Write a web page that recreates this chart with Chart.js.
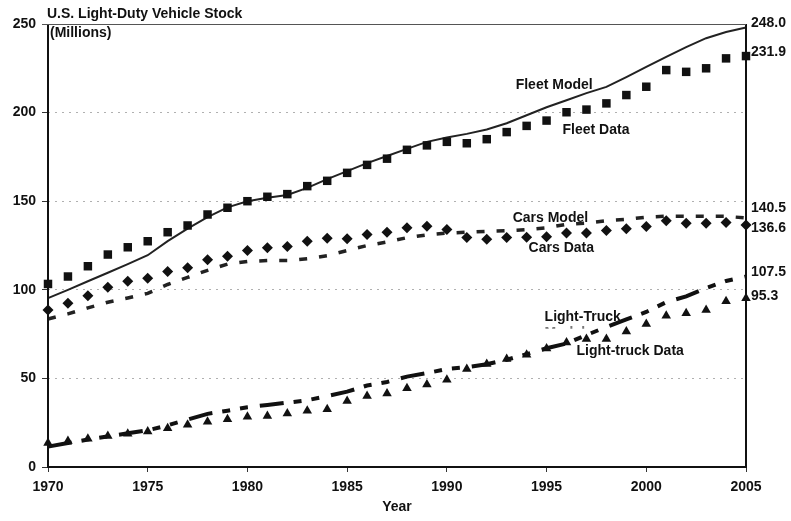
<!DOCTYPE html>
<html><head><meta charset="utf-8">
<script src="https://cdn.jsdelivr.net/npm/chart.js@4.4.1/dist/chart.umd.min.js"></script>
<style>html,body{margin:0;padding:0;background:#fff;}#wrap{width:791px;height:521px;}</style>
</head><body><div id="wrap"><canvas id="c" width="791" height="521"></canvas></div>
<script>
const years = [1970,1971,1972,1973,1974,1975,1976,1977,1978,1979,1980,1981,1982,1983,1984,1985,1986,1987,1988,1989,1990,1991,1992,1993,1994,1995,1996,1997,1998,1999,2000,2001,2002,2003,2004,2005];
const fleetModel = [95.3,100,104.8,109.6,114.5,119.5,127.5,134.5,141,146.5,150,152,153.5,157.5,162.5,167,171.5,175.5,179.5,183.5,186,188,190.5,194,198.5,203,207,211,214.5,220,225.8,231.5,237,242,245.5,248.0];
const fleetData = [103.3,107.5,113.3,119.9,124,127.4,132.5,136.3,142.5,146.3,150,152.5,154,158.5,161.5,166,170.5,174,179,181.5,183.5,182.7,185,189,192.5,195.5,200.2,201.7,205.2,209.9,214.6,224,223,225,230.6,231.9];
const carsModel = [83.5,86.4,89.8,93,95.4,98,103,107,111,114.5,116,116.5,116.5,117.5,119.3,122.2,125,127,129.4,131,132,132.5,133,133.3,134,135,137,137.6,139,139.7,141,141.5,141.5,141.5,141.5,140.5];
const carsData = [88.6,92.4,96.7,101.4,104.8,106.5,110.3,112.4,116.9,119,122.2,123.7,124.4,127.4,129.1,128.8,131.2,132.5,135,135.9,134,129.5,128.5,129.5,129.7,130,132,132,133.5,134.4,135.7,139,137.6,137.6,138,136.6];
const truckModel = [11.5,13.5,15.5,17.3,19,20.7,23.5,26.8,30,31.8,33.7,35,36.3,37.7,40,42.5,46,48,51,53,55.3,56.3,58,60.5,63.7,67,69.7,74.5,79,83.3,87.5,93,96.3,101,105,107.5];
const truckData = [13.5,14.7,16,17.5,18.8,20,21.9,23.8,25.5,27,28.3,28.8,30.2,31.7,32.6,37.3,40,41.5,44.4,46.6,49.3,55.3,58.1,60.9,63.3,66.9,70.3,72.2,72.2,76.5,80.7,85.4,86.7,88.6,93.5,95.3];
const yTicks = [0,50,100,150,200,250];
const xTicks = [1970,1975,1980,1985,1990,1995,2000,2005];
const endLabels = ['248.0','231.9','140.5','136.6','107.5','95.3'];
const seriesLabels = ['Fleet Model','Fleet Data','Cars Model','Cars Data','Light-Truck','Light-truck Data'];

const FONT = '"Liberation Sans", Arial, sans-serif';
const pts = arr => arr.map((v,i)=>({x:years[i], y:v}));

const txtPlugin = {
  id:'txt',
  afterDatasetsDraw(chart){
    const {ctx, chartArea:a, scales:{x,y}} = chart;
    ctx.save();
    ctx.strokeStyle='#111'; ctx.lineWidth=2;
    ctx.beginPath();
    ctx.moveTo(a.left, a.top); ctx.lineTo(a.left, a.bottom);
    ctx.lineTo(a.right, a.bottom); ctx.lineTo(a.right, a.top);
    ctx.stroke();
    ctx.strokeStyle='#555'; ctx.lineWidth=1;
    ctx.beginPath(); ctx.moveTo(a.left-6, a.top+0.5); ctx.lineTo(a.right, a.top+0.5); ctx.stroke();

    ctx.fillStyle='#111';
    ctx.font = 'bold 14px '+FONT;
    ctx.textAlign='left'; ctx.textBaseline='middle';
    ctx.fillText('U.S. Light-Duty Vehicle Stock', a.left-1, 14);
    ctx.fillText('(Millions)', a.left+2, 33);

    const anchors = [[1993.45,215.5],[1995.8,190],[1993.3,140.3],[1994.1,123.3],[1994.9,84.5],[1996.5,65.4]];
    seriesLabels.forEach((t,i)=>{
      ctx.fillText(t, x.getPixelForValue(anchors[i][0]), y.getPixelForValue(anchors[i][1]));
    });
    ctx.save();
    const mx = x.getPixelForValue(1994.9), my = y.getPixelForValue(84.5);
    ctx.beginPath(); ctx.rect(mx-2, my+6, 80, 5.5); ctx.clip();
    ctx.fillStyle='#777';
    ctx.fillText('Model', mx, my+16);
    ctx.restore();

    const endV = [250.5,234,146,135,110.1,96.5];
    endLabels.forEach((t,i)=>{
      ctx.fillText(t, a.right+5, y.getPixelForValue(endV[i]));
    });
    ctx.restore();
  }
};

new Chart(document.getElementById('c'), {
  type:'line',
  data:{datasets:[
    {label:'Fleet Data', data:pts(fleetData), showLine:false, pointStyle:'rect', pointRadius:6, pointBackgroundColor:'#111', pointBorderColor:'#111', pointBorderWidth:0, clip:false},
    {label:'Fleet Model', data:pts(fleetModel), borderColor:'#222', borderWidth:2, pointRadius:0, clip:false},
    {label:'Cars Data', data:pts(carsData), showLine:false, pointStyle:'rectRot', pointRadius:5.5, pointBackgroundColor:'#111', pointBorderColor:'#111', pointBorderWidth:0, clip:false},
    {label:'Cars Model', data:pts(carsModel), borderColor:'#222', borderWidth:3.5, borderDash:[8,12], borderCapStyle:'butt', pointRadius:0, clip:false},
    {label:'Light-truck Data', data:pts(truckData), showLine:false, pointStyle:'triangle', pointRadius:5.5, pointBackgroundColor:'#111', pointBorderColor:'#111', pointBorderWidth:0, clip:false},
    {label:'Light-Truck Model', data:pts(truckModel), borderColor:'#111', borderWidth:4, borderDash:[24,10,8,10,8,12], borderCapStyle:'butt', pointRadius:0, clip:false}
  ]},
  options:{
    responsive:false, animation:false,
    layout:{padding:{top:24,right:45,left:0,bottom:0}},
    plugins:{legend:{display:false}, tooltip:{enabled:false}},
    scales:{
      x:{type:'linear', min:xTicks[0], max:xTicks[xTicks.length-1],
        afterFit:s=>{s.height=54;},
        afterBuildTicks:s=>{s.ticks = xTicks.map(v=>({value:v}));},
        ticks:{callback:v=>String(v), color:'#111', padding:7, font:{family:FONT,size:14,weight:'bold'}, maxRotation:0, autoSkip:false},
        grid:{drawOnChartArea:false, tickLength:5, tickColor:'#333', tickWidth:1},
        border:{display:false},
        title:{display:true, text:'Year', color:'#111', font:{family:FONT,size:14,weight:'bold'}, padding:{top:0,bottom:5}}
      },
      y:{min:yTicks[0], max:yTicks[yTicks.length-1],
        afterFit:s=>{s.width=48;},
        afterBuildTicks:s=>{s.ticks = yTicks.map(v=>({value:v}));},
        ticks:{color:'#111', padding:6, font:{family:FONT,size:14,weight:'bold'}},
        grid:{color:c=>(c.tick && (c.tick.value===0||c.tick.value===250))?'rgba(0,0,0,0)':'#b0b0b0', lineWidth:1, tickLength:6, tickColor:'#333', tickWidth:1, tickBorderDash:[]},
        border:{display:false, dash:[2,5]}
      }
    }
  },
  plugins:[txtPlugin]
});
</script>
</body></html>
